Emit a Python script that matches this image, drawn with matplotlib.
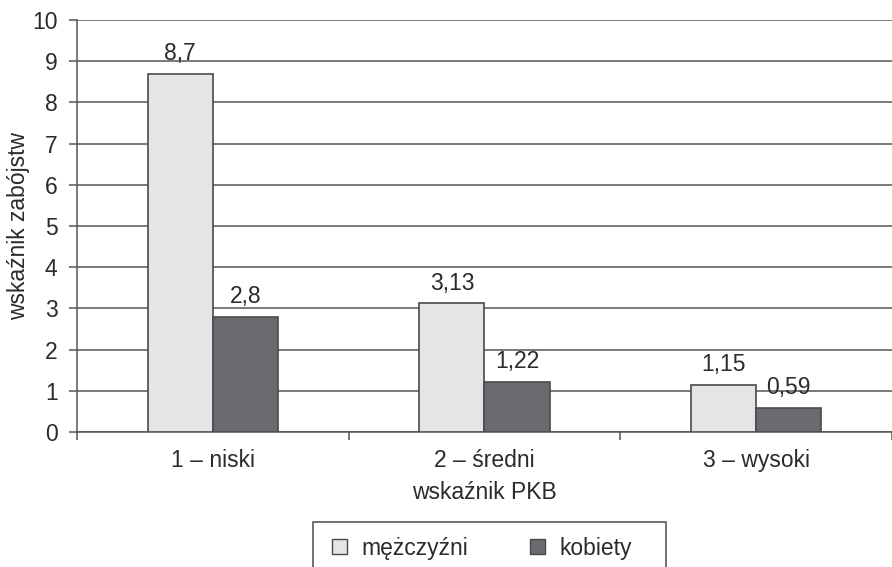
import matplotlib.pyplot as plt
from matplotlib.patches import Rectangle
import numpy as np

categories = ["1 – niski", "2 – średni", "3 – wysoki"]
men = [8.7, 3.13, 1.15]
women = [2.8, 1.22, 0.59]
men_labels = ["8,7", "3,13", "1,15"]
women_labels = ["2,8", "1,22", "0,59"]

plt.rcParams["font.family"] = ["Liberation Sans", "DejaVu Sans"]
text_col = "#2b2b2b"
line_col = "#555555"
light = "#e4e5e7"
dark = "#6a6b6f"
edge = "#4a4a4a"
fs = 16.5

fig = plt.figure(figsize=(8.92, 5.67), dpi=100)
ax = fig.add_axes([0.0863, 0.238, 0.9137, 0.7267])

x = np.arange(len(categories))
w = 0.24
b1 = ax.bar(x - w / 2, men, w, color=light, edgecolor=edge, linewidth=1.2, zorder=3)
b2 = ax.bar(x + w / 2, women, w, color=dark, edgecolor=edge, linewidth=1.2, zorder=3)

for bars, labels in ((b1, men_labels), (b2, women_labels)):
    for bar, lab in zip(bars, labels):
        ax.annotate(lab, (bar.get_x() + bar.get_width() / 2, bar.get_height()),
                    xytext=(0, 6), textcoords="offset points",
                    ha="center", va="bottom", fontsize=fs, color=text_col)

ax.set_xlim(-0.5, 2.5)
ax.set_ylim(0, 10)
ax.set_yticks(range(0, 11))
ax.yaxis.grid(True, color=line_col, linewidth=1.1, zorder=0)
ax.set_axisbelow(True)

ax.set_xticks([-0.5, 0.5, 1.5, 2.5])
ax.set_xticklabels([])
ax.set_xticks(x, minor=True)
ax.set_xticklabels(categories, minor=True)
ax.tick_params(axis="x", which="minor", length=0, pad=12, labelsize=fs, labelcolor=text_col)
ax.tick_params(axis="x", which="major", length=6, width=1.1, color=line_col, direction="out")
ax.tick_params(axis="y", length=6, width=1.1, color=line_col, labelsize=fs,
               labelcolor=text_col, pad=8)

for s in ("top", "right"):
    ax.spines[s].set_visible(False)
for s in ("left", "bottom"):
    ax.spines[s].set_color(line_col)
    ax.spines[s].set_linewidth(1.1)

ax.set_ylabel("wskaźnik zabójstw", fontsize=fs, color=text_col)
ax.yaxis.set_label_coords(-0.058, 0.5)
ax.set_xlabel("wskaźnik PKB", fontsize=fs, color=text_col)
ax.xaxis.set_label_coords(0.5, -0.118)

# legend box, running off the bottom edge
fig.patches.append(Rectangle((313 / 892, -0.05), 353 / 892, 0.05 + 45 / 567,
                             transform=fig.transFigure, fill=False,
                             edgecolor=edge, linewidth=1.1))
handles = [Rectangle((0, 0), 1, 1, facecolor=light, edgecolor=edge, linewidth=1),
           Rectangle((0, 0), 1, 1, facecolor=dark, edgecolor=edge, linewidth=1)]
fig.legend(handles, ["mężczyźni", "kobiety"], loc="center left",
           bbox_to_anchor=(311 / 892, 1 - 548 / 567), ncol=2, frameon=False,
           fontsize=fs, handlelength=0.65, handleheight=0.65, handletextpad=0.65,
           columnspacing=2.7, labelcolor=text_col)

fig.savefig("out.png", dpi=100)
